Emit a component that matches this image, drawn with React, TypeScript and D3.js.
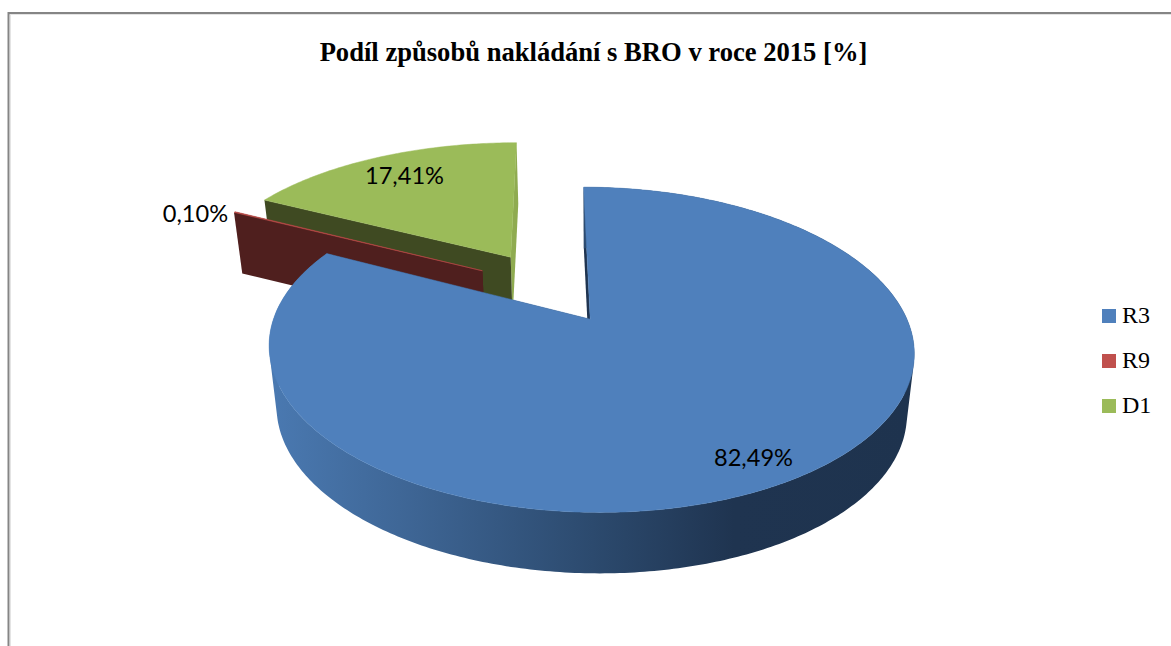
import React from "react";
import * as d3 from "d3";

const categories = ["R3", "R9", "D1"];
const shares = [82.49, 0.1, 17.41];
const valueLabels = ["82,49%", "0,10%", "17,41%"];
const topColors = ["#4f80bc", "#c0504d", "#9bbb59"];
const startWallColors = ["#1f3450", "#4f1f1e", "#3f4a22"];
const endWallColors = ["#1f3450", "#4f1f1e", "#8fab50"];
const chartTitle = "Podíl způsobů nakládání s BRO v roce 2015 [%]";

const W = 1171;
const H = 646;
const scene = { x0: 548.8, y0: 287, rx: 304.5, ry: 145, k: 0.181, explode: 0.25, depth: 61, shrink: 0.977, axisX: 592.5 };
const rimStretch = [1, 1.03, 1.033];
const labelAnchors = [
  [753.5, 466],
  [195.5, 222],
  [404.5, 184],
];
const legendY = [309, 354, 399];

type P = [number, number];
const project = (x: number, y: number): P => {
  const d = 1 - scene.k * y;
  return [scene.x0 + (scene.rx * x) / d, scene.y0 + (scene.ry * y) / d];
};
const drop = ([x, y]: P): P => [scene.axisX + (x - scene.axisX) * scene.shrink, y + scene.depth];
const line = d3.line<P>();
const closed = (pts: P[]) => line(pts) + "Z";
const oriented = (pts: P[]) => {
  const a = d3.polygonArea(pts);
  return a < 0 ? [...pts].reverse() : pts;
};

const arcs = d3.pie<number>().sort(null).value((d) => d)(shares);

const slices = arcs.map((a, i) => {
  const mid = (a.startAngle + a.endAngle) / 2;
  const cx = scene.explode * Math.sin(mid);
  const cy = -scene.explode * Math.cos(mid);
  const apex = project(cx, cy);
  const n = Math.max(2, Math.ceil((a.endAngle - a.startAngle) / (Math.PI / 240)));
  const thetas = d3.range(n + 1).map((j) => a.startAngle + ((a.endAngle - a.startAngle) * j) / n);
  const rim = thetas.map((t): P => {
    const [x, y] = project(cx + Math.sin(t), cy - Math.cos(t));
    return [apex[0] + (x - apex[0]) * rimStretch[i], y];
  });
  const top = closed([apex, ...rim]);
  const facesFront = Math.cos(mid) < 0;
  const outer = facesFront
    ? d3
        .range(n)
        .map((j) => closed(oriented([rim[j], rim[j + 1], drop(rim[j + 1]), drop(rim[j])])))
        .join("")
    : "";
  const startWall = closed([apex, rim[0], drop(rim[0]), drop(apex)]);
  const endWall = closed([apex, rim[n], drop(rim[n]), drop(apex)]);
  return { i, top, outer, startWall, endWall };
});

const drawOrder = [2, 1, 0];

export default function App() {
  return (
    <svg
      width={W}
      height={H}
      viewBox={`0 0 ${W} ${H}`}
      style={{ position: "absolute", left: 0, top: 0, display: "block", background: "#fff" }}
    >
      <defs>
        <linearGradient id="wallBlue" gradientUnits="userSpaceOnUse" x1={270} x2={915} y1={0} y2={0}>
          <stop offset="0" stopColor="#4a79b1" />
          <stop offset="0.2" stopColor="#3f6797" />
          <stop offset="0.5" stopColor="#2c4a6e" />
          <stop offset="0.72" stopColor="#1f3450" />
          <stop offset="1" stopColor="#1e334e" />
        </linearGradient>
      </defs>
      <line x1={10.5} x2={10.5} y1={14} y2={H} stroke="#e4e4e4" strokeWidth={1} />
      <line x1={9} x2={W} y1={14.5} y2={14.5} stroke="#e4e4e4" strokeWidth={1} />
      <line x1={8.5} x2={8.5} y1={12} y2={H} stroke="#858585" strokeWidth={2} />
      <line x1={8} x2={W} y1={13} y2={13} stroke="#858585" strokeWidth={2} />

      <text
        x={593.5}
        y={61}
        textAnchor="middle"
        fontFamily="'Liberation Serif', serif"
        fontWeight="bold"
        fontSize={26.6}
        fill="#000"
      >
        {chartTitle}
      </text>

      {drawOrder.map((idx) => {
        const s = slices[idx];
        return (
          <g key={categories[idx]}>
            <path d={s.endWall} fill={endWallColors[idx]} />
            <path d={s.startWall} fill={startWallColors[idx]} />
            {s.outer && <path d={s.outer} fill="url(#wallBlue)" />}
            <path d={s.top} fill={topColors[idx]} stroke={topColors[idx]} strokeWidth={0.5} />
          </g>
        );
      })}

      {valueLabels.map((t, i) => (
        <text
          key={t}
          x={labelAnchors[i][0]}
          y={labelAnchors[i][1]}
          textAnchor="middle"
          fontFamily="Lato, sans-serif"
          fontSize={23.6}
          fill="#000"
        >
          {t}
        </text>
      ))}

      {categories.map((c, i) => (
        <g key={c}>
          <rect x={1102} y={legendY[i]} width={14} height={14} fill={topColors[i]} />
          <text x={1122} y={legendY[i] + 14} fontFamily="'Liberation Serif', serif" fontSize={24} fill="#000">
            {c}
          </text>
        </g>
      ))}
    </svg>
  );
}
